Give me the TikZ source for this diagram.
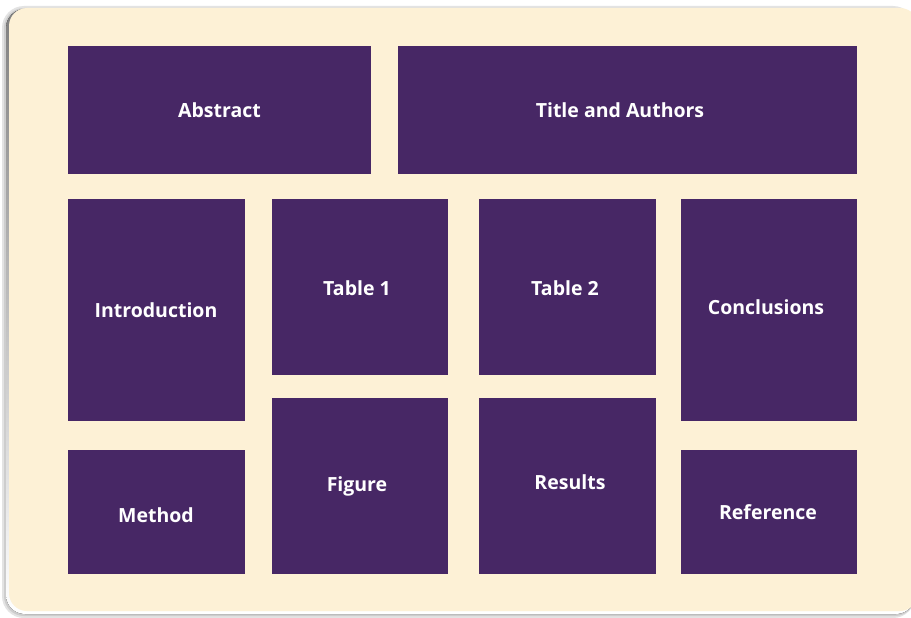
\documentclass[tikz,border=0pt]{standalone}
\usepackage{fontspec}
\setmainfont{Open Sans}
\definecolor{cream}{HTML}{FDF1D6}
\definecolor{plum}{HTML}{472765}
\definecolor{shade}{HTML}{B8B8B8}
\begin{document}
\begin{tikzpicture}[x=1pt,y=-1pt,
  panel/.style={fill=plum,draw=none},
  lbl/.style={text=white,font=\bfseries\fontsize{19.5}{22}\selectfont,inner sep=0pt}]
\useasboundingbox (0,0) rectangle (911,618);
\fill[white] (0,0) rectangle (911,618);
% shadow
\fill[shade!40,rounded corners=22pt] (2,6) rectangle (915,618);
\fill[shade!70,rounded corners=20pt] (4,8) rectangle (915,616);
\fill[shade,rounded corners=19pt] (6,9) rectangle (915,614);
\fill[cream,rounded corners=18pt] (9,8) rectangle (918,611);
% panels
\fill[panel] (68,46) rectangle (371,174);
\path (219.5,110) node[lbl] (abs) {Abstract};
\fill[panel] (398,46) rectangle (857,174);
\path (620,110) node[lbl] (tit) {Title and Authors};
\fill[panel] (68,199) rectangle (245,421);
\path (156,310) node[lbl] (intro) {Introduction};
\fill[panel] (272,199) rectangle (448,375);
\path (357,288) node[lbl] (t1) {Table 1};
\fill[panel] (479,199) rectangle (656,375);
\path (565,288) node[lbl] (t2) {Table 2};
\fill[panel] (681,199) rectangle (857,421);
\path (766,307) node[lbl] (conc) {Conclusions};
\fill[panel] (68,450) rectangle (245,574);
\path (156,515) node[lbl] (meth) {Method};
\fill[panel] (272,398) rectangle (448,574);
\path (357,486) node[lbl] (fig) {Figure};
\fill[panel] (479,398) rectangle (656,574);
\path (570,482) node[lbl] (res) {Results};
\fill[panel] (681,450) rectangle (857,574);
\path (768,512) node[lbl] (ref) {Reference};
\end{tikzpicture}
\end{document}
